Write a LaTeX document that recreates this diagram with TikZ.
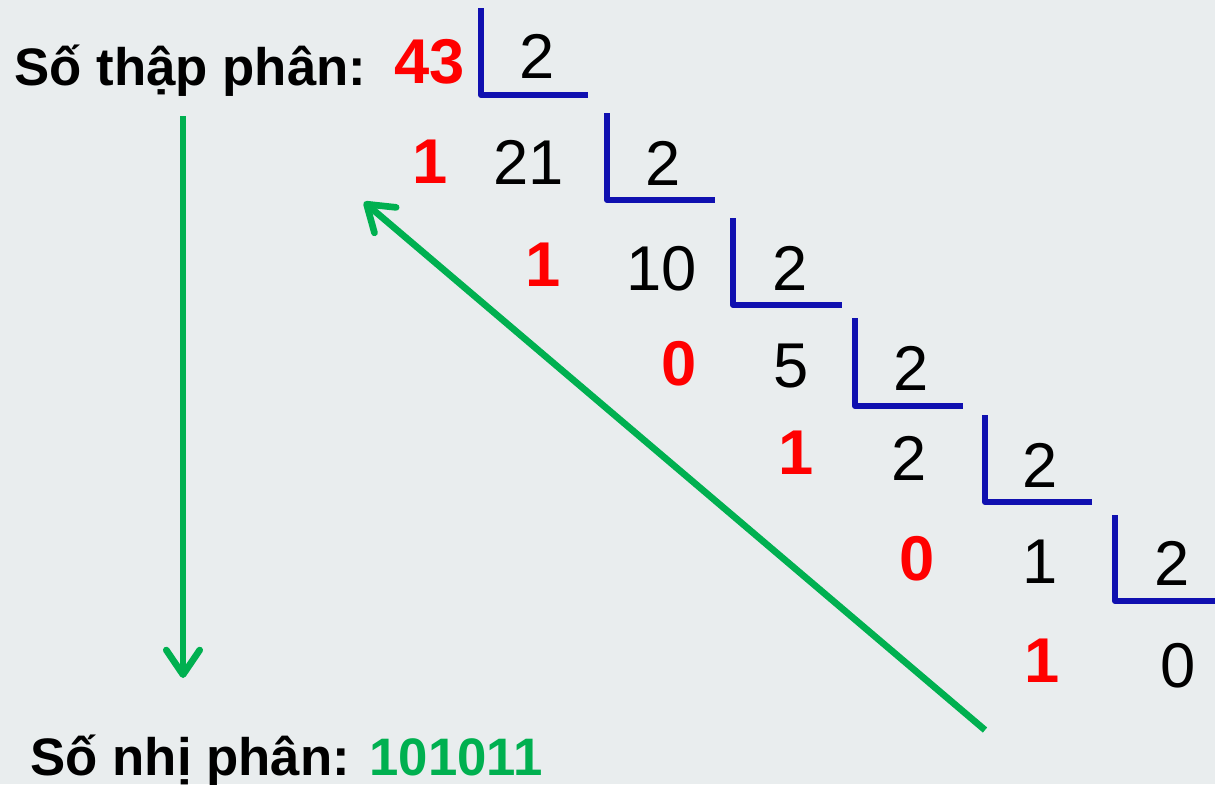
\documentclass[tikz,border=0pt]{standalone}
\usepackage{fontspec}
\setmainfont{Liberation Sans}
\usepackage{tikz}
\usetikzlibrary{arrows.meta}
\definecolor{bgcol}{HTML}{E9EDEE}
\definecolor{remred}{HTML}{FF0000}
\definecolor{barblue}{HTML}{1010B0}
\definecolor{resgreen}{HTML}{00B050}

\begin{document}
\begin{tikzpicture}[x=0.01cm,y=-0.01cm,
	lab/.style={font=\bfseries\fontsize{15}{18}\selectfont,anchor=base west,inner sep=0pt},
	rem/.style={font=\bfseries\fontsize{18}{20}\selectfont,text=remred,anchor=base,inner sep=0pt},
	num/.style={font=\fontsize{18}{20}\selectfont,anchor=base,inner sep=0pt},
	bar/.style={draw=barblue,line width=1.7pt,line join=round},
	arr/.style={draw=resgreen,line width=1.9pt,-{Straight Barb[length=7pt,width=9.5pt,round]}}]
	  \useasboundingbox (0,0) rectangle (1215,784);
	  \fill[bgcol] (0,0) rectangle (1215,784);
	  \node[lab] (dec) at (14,85) {Số thập phân:};
	  \node[lab] (bin) at (30,775) {Số nhị phân: \textcolor{resgreen}{101011}};
	  \node[rem] (n0) at (430,83) {43};
	  \node[num] (d1) at (537,78) {2};
	  \node[rem] (r1) at (430,183) {1};
	  \node[num] (n1) at (529,184) {21};
	  \node[num] (d2) at (663,185) {2};
	  \node[rem] (r2) at (543,286) {1};
	  \node[num] (n2) at (662,290) {10};
	  \node[num] (d3) at (790,290) {2};
	  \node[rem] (r3) at (679,385) {0};
	  \node[num] (n3) at (791,387) {5};
	  \node[num] (d4) at (911,390) {2};
	  \node[rem] (r4) at (796,474) {1};
	  \node[num] (n4) at (909,480) {2};
	  \node[num] (d5) at (1040,487) {2};
	  \node[rem] (r5) at (917,580) {0};
	  \node[num] (n5) at (1040,583) {1};
	  \node[num] (d6) at (1172,585) {2};
	  \node[rem] (r6) at (1042,682) {1};
	  \node[num] (n6) at (1178,687) {0};
	  \draw[bar] (481,8) -- (481,95) -- (588,95);
	  \draw[bar] (607,113) -- (607,200) -- (715,200);
	  \draw[bar] (733,218) -- (733,305) -- (842,305);
	  \draw[bar] (855,318) -- (855,406) -- (963,406);
	  \draw[bar] (985,415) -- (985,502) -- (1092,502);
	  \draw[bar] (1115,515) -- (1115,601) -- (1215,601);
	  \coordinate (vtop) at (183,116);
	  \coordinate (vbot) at (183,678);
	  \coordinate (dtail) at (985,730);
	  \coordinate (dtip) at (364,202);
	  \draw[arr] (vtop) -- (vbot);
	  \draw[arr] (dtail) -- (dtip);
	\end{tikzpicture}
\end{document}
